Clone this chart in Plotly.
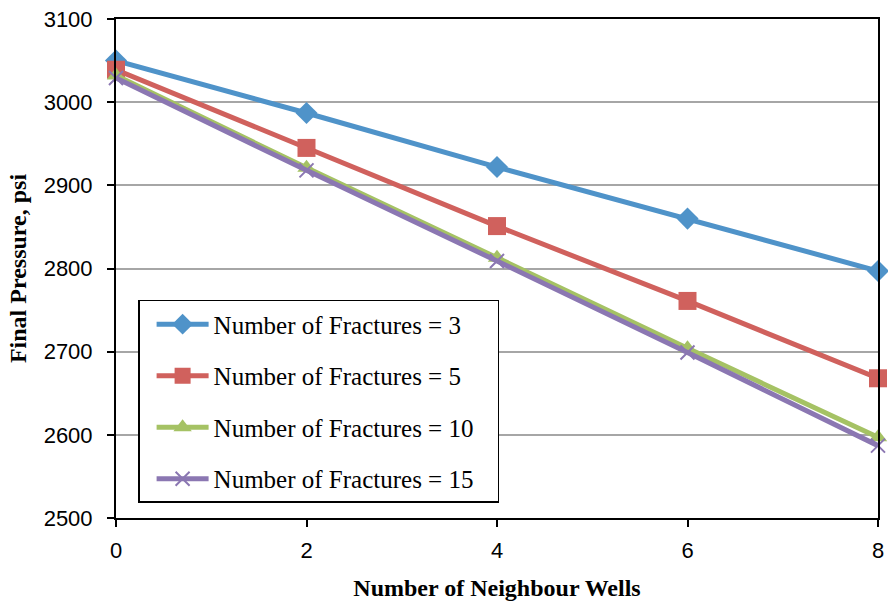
import plotly.graph_objects as go

neighbour_wells = [0, 2, 4, 6, 8]
frac_3 = [3050, 2987, 2922, 2860, 2797]
frac_5 = [3039, 2945, 2851, 2761, 2668]
frac_10 = [3032, 2921, 2813, 2704, 2597]
frac_15 = [3029, 2918, 2809, 2699, 2587]

series_names = ["Number of Fractures = 3", "Number of Fractures = 5",
                "Number of Fractures = 10", "Number of Fractures = 15"]
series_values = [frac_3, frac_5, frac_10, frac_15]
colors = ["#4F93C9", "#D0615D", "#A5C264", "#8B77B2"]
symbols = ["diamond", "square", "triangle-up", "x-thin"]
sizes = [17, 18, 16, 14]

PAD = "\u00a0\u00a0\u00a0"  # extra room at the right of the legend box

fig = go.Figure()
for i, (name, vals) in enumerate(zip(series_names, series_values)):
    marker = dict(symbol=symbols[i], size=sizes[i], color=colors[i])
    if symbols[i] == "x-thin":
        marker["line"] = dict(color=colors[i], width=2)
    fig.add_trace(go.Scatter(
        x=neighbour_wells, y=vals, name=name + PAD, mode="lines+markers",
        line=dict(color=colors[i], width=5),
        marker=marker, cliponaxis=False, legendgroup=f"g{i}",
    ))

fig.update_layout(
    width=888, height=603,
    margin=dict(l=116, r=10, t=19, b=85, autoexpand=False),
    paper_bgcolor="white", plot_bgcolor="white",
    showlegend=True,
    legend=dict(
        x=0.029, y=0.437, xanchor="left", yanchor="top",
        bordercolor="black", borderwidth=1.5, bgcolor="white",
        font=dict(family="Liberation Serif", size=25, color="black"),
        itemwidth=52, tracegroupgap=16, indentation=12,
    ),
    xaxis=dict(
        range=[0, 8], tickvals=[0, 2, 4, 6, 8], ticktext=["0", "2", "4", "6", "8"],
        showline=True, linecolor="black", linewidth=2, mirror=True,
        ticks="outside", ticklen=7, tickwidth=1.5, tickcolor="black",
        showgrid=False, zeroline=False, automargin=False,
        ticklabeloverflow="allow",
        tickfont=dict(family="Liberation Sans", size=22, color="black"),
        ticklabelstandoff=5,
        title=dict(text="<b>Number of Neighbour Wells</b>",
                   font=dict(family="Liberation Serif", size=24, color="black"),
                   standoff=17),
    ),
    yaxis=dict(
        range=[2500, 3100], tickvals=[2500, 2600, 2700, 2800, 2900, 3000, 3100],
        showline=True, linecolor="black", linewidth=2, mirror=True,
        ticks="outside", ticklen=7, tickwidth=1.5, tickcolor="black",
        showgrid=True, gridcolor="#A6A6A6", gridwidth=1.5, zeroline=False,
        automargin=False, ticklabeloverflow="allow",
        tickfont=dict(family="Liberation Sans", size=22, color="black"),
        ticklabelstandoff=10,
        title=dict(text="<b>Final Pressure, psi</b>",
                   font=dict(family="Liberation Serif", size=24, color="black"),
                   standoff=10),
    ),
)

fig.write_html("out.html", config={"displayModeBar": False},
               post_script="document.body.style.margin='0';")
